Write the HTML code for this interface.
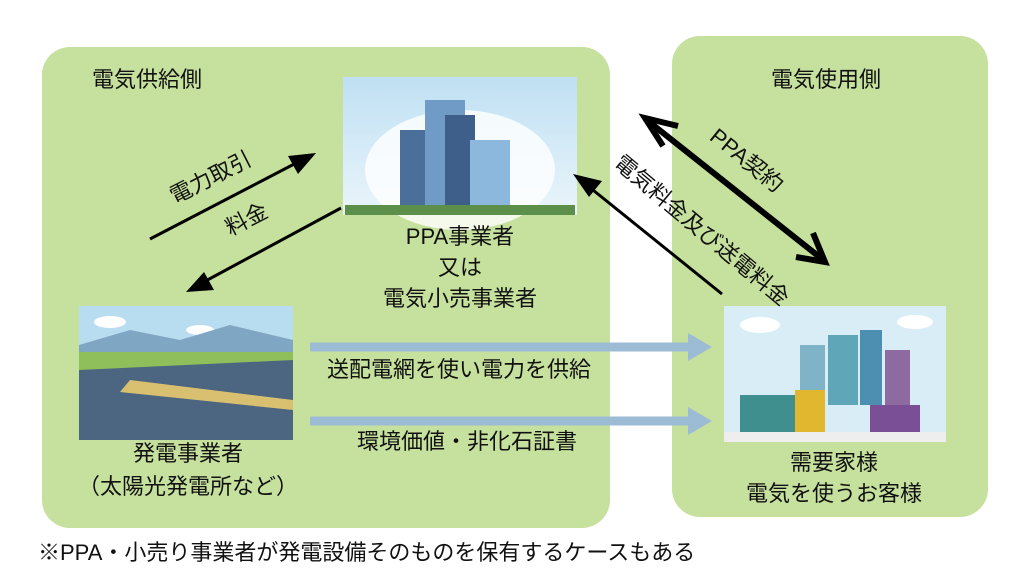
<!DOCTYPE html>
<html><head><meta charset="utf-8"><style>
html,body{margin:0;padding:0;background:#fff;}
svg{display:block;}
text{font-family:"Liberation Sans","Noto Sans CJK JP",sans-serif;fill:#111;}
</style></head><body>
<svg width="1024" height="576" viewBox="0 0 1024 576" xmlns="http://www.w3.org/2000/svg">
<defs>
<linearGradient id="sky" x1="0" y1="0" x2="0" y2="1"><stop offset="0" stop-color="#bfe0f3"/><stop offset="1" stop-color="#eaf5fb"/></linearGradient>
</defs>
<rect x="42" y="47" width="568" height="481" rx="28" fill="#c6e09d"/>
<rect x="672" y="36" width="316" height="481" rx="28" fill="#c6e09d"/>

<!-- PPA image -->
<rect x="343" y="77" width="234" height="138" fill="url(#sky)"/>
<ellipse cx="460" cy="170" rx="95" ry="60" fill="#ffffff" opacity="0.8"/>
<rect x="400" y="130" width="30" height="85" fill="#4a6f9a"/>
<rect x="425" y="100" width="40" height="115" fill="#6f9bc6"/>
<rect x="445" y="115" width="30" height="100" fill="#3d5f8a"/>
<rect x="470" y="140" width="40" height="75" fill="#8cb8dd"/>
<rect x="345" y="205" width="230" height="10" fill="#5c8f4a"/>

<!-- Solar image -->
<rect x="79" y="306" width="214" height="134" fill="#b8dcf0"/>
<ellipse cx="110" cy="322" rx="16" ry="6" fill="#fff"/>
<ellipse cx="200" cy="330" rx="14" ry="5" fill="#fff"/>
<polygon points="79,345 130,330 180,340 230,325 293,340 293,360 79,360" fill="#7fa6c2"/>
<rect x="79" y="352" width="214" height="88" fill="#8fbf5a"/>
<polygon points="79,370 293,360 293,440 79,440" fill="#3b4f8a" opacity="0.8"/>
<polygon points="130,380 293,400 293,410 120,392" fill="#d8c070"/>

<!-- Customer image -->
<rect x="724" y="306" width="222" height="136" fill="#d9edf6"/>
<ellipse cx="760" cy="325" rx="20" ry="8" fill="#fff"/>
<ellipse cx="915" cy="322" rx="18" ry="7" fill="#fff"/>
<rect x="800" y="345" width="25" height="60" fill="#7fb3c8"/>
<rect x="828" y="335" width="30" height="70" fill="#5fa7b8"/>
<rect x="860" y="330" width="22" height="75" fill="#4d8fb0"/>
<rect x="885" y="350" width="25" height="55" fill="#8d6aa0"/>
<rect x="740" y="395" width="55" height="40" fill="#3f8f8f"/>
<rect x="795" y="390" width="30" height="45" fill="#e0b830"/>
<rect x="870" y="405" width="50" height="30" fill="#7a4f95"/>
<rect x="724" y="432" width="222" height="10" fill="#eeeeee"/>

<!-- titles -->
<text x="92" y="87" font-size="22">電気供給側</text>
<text x="771" y="87" font-size="22">電気使用側</text>
<text x="460" y="244" font-size="22" text-anchor="middle">PPA事業者</text>
<text x="460" y="275" font-size="22" text-anchor="middle">又は</text>
<text x="460" y="306" font-size="22" text-anchor="middle">電気小売事業者</text>
<text x="188" y="461" font-size="22" text-anchor="middle">発電事業者</text>
<text x="188" y="494" font-size="22" text-anchor="middle">（太陽光発電所など）</text>
<text x="834" y="470" font-size="22" text-anchor="middle">需要家様</text>
<text x="834" y="501" font-size="22" text-anchor="middle">電気を使うお客様</text>
<text x="327" y="377" font-size="22">送配電網を使い電力を供給</text>
<text x="357" y="449" font-size="22">環境価値・非化石証書</text>
<text x="38" y="560" font-size="22">※PPA・小売り事業者が発電設備そのものを保有するケースもある</text>

<!-- blue arrows -->
<line x1="310" y1="347" x2="690" y2="347" stroke="#9bbcd4" stroke-width="9"/>
<polygon points="688,333 712,347 688,361" fill="#9bbcd4"/>
<line x1="310" y1="421" x2="690" y2="421" stroke="#9bbcd4" stroke-width="9"/>
<polygon points="688,407 712,421 688,435" fill="#9bbcd4"/>

<!-- left arrows -->
<line x1="150" y1="239" x2="300" y2="161" stroke="#000" stroke-width="3"/>
<polygon points="316,153 288,156 298,174" fill="#000"/>
<line x1="341" y1="208" x2="200" y2="284" stroke="#000" stroke-width="3"/>
<polygon points="186,292 204,272 214,290" fill="#000"/>
<text transform="translate(214,184) rotate(-27)" font-size="22" text-anchor="middle">電力取引</text>
<text transform="translate(250,226) rotate(-27)" font-size="22" text-anchor="middle">料金</text>

<!-- PPA double arrow -->
<line x1="648" y1="121" x2="822" y2="259" stroke="#000" stroke-width="6"/>
<polyline points="663,146 645,118 678,126" fill="none" stroke="#000" stroke-width="6"/>
<polyline points="796,257 825,262 813,233" fill="none" stroke="#000" stroke-width="6"/>
<text transform="translate(742,166) rotate(39)" font-size="22" text-anchor="middle">PPA契約</text>

<!-- 電気料金 arrow -->
<line x1="722" y1="294" x2="588" y2="186" stroke="#000" stroke-width="3"/>
<polygon points="573,174 602,181 589,197" fill="#000"/>
<text transform="translate(697,236) rotate(40)" font-size="22" text-anchor="middle">電気料金及び送電料金</text>
</svg>
</body></html>
